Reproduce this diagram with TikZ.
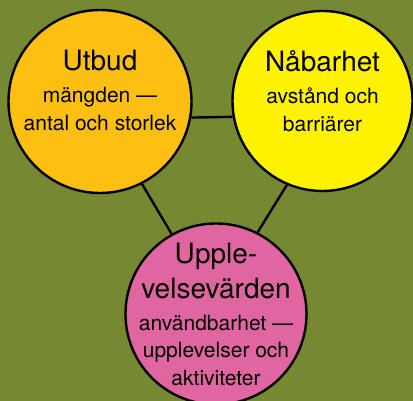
\documentclass[tikz,border=0pt]{standalone}
\usepackage{fontspec}
\setmainfont{TeX Gyre Heros}
\tikzset{
    every picture/.style={
        line width=2.4pt
    },
    % Style for the three big circles
    topic circle/.style={
        circle,
        draw=black,
        inner sep=0pt
    },
    % Style for the lines between the circles
    link line/.style={
        draw=black,
        line width=2.4pt
    },
    % Style for centered labels
    area label/.style={
        align=center,
        inner sep=0pt,
        font=\fontsize{21}{27.5}\selectfont
    }
}
\newcommand{\titlesize}{\fontsize{28}{35}\selectfont}
\definecolor{bgArea}{RGB}{118,136,48}
\definecolor{utbudArea}{RGB}{254,191,19}
\definecolor{nabarhetArea}{RGB}{255,242,0}
\definecolor{upplevelseArea}{RGB}{223,102,160}

\begin{document}
\begin{tikzpicture}[x=1pt,y=1pt]

% Set the canvas size
\fill[bgArea] (0,0) rectangle (413,401);
\path[use as bounding box] (0,0) rectangle (413,401);

% Draw the circles
\node[topic circle, fill=utbudArea, minimum size=183pt] (utbud) at (100,299.5) {};
\node[topic circle, fill=nabarhetArea, minimum size=180pt] (nabarhet) at (322.5,300) {};
\node[topic circle, fill=upplevelseArea, minimum size=181pt] (upplevelse) at (216,87) {};

% lines between circles
\draw[link line] (utbud.-10) -- (nabarhet.190);
\draw[link line] (utbud.-63) -- (upplevelse.119);
\draw[link line] (nabarhet.247) -- (upplevelse.63);

% labels
\node[area label] (utbudText) at ([yshift=11pt]utbud.center)
  {{\titlesize Utbud}\\[4.5pt] mängden —\\ antal och storlek};
\node[area label] (nabarhetText) at ([yshift=10pt]nabarhet.center)
  {{\titlesize Nåbarhet}\\[4.5pt] avstånd och\\ barriärer};
\node[area label] (upplevelseText) at (upplevelse.center)
  {{\titlesize Upple-}\\[7.5pt] {\titlesize velsevärden}\\[4.5pt]
   användbarhet —\\ upplevelser och\\ aktiviteter};

\end{tikzpicture}
\end{document}
